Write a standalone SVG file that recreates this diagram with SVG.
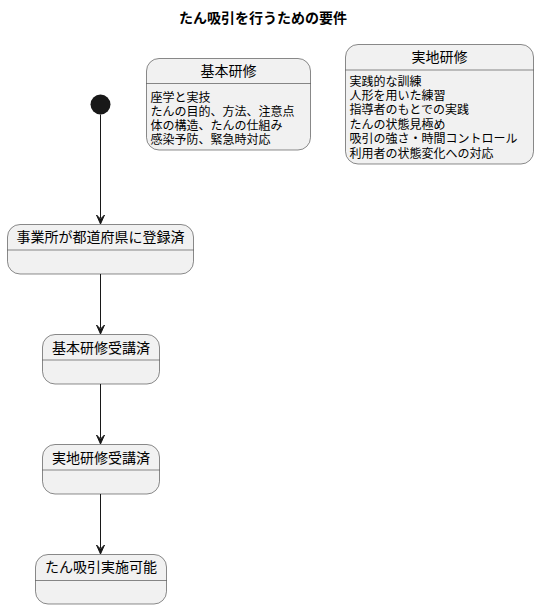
<svg xmlns="http://www.w3.org/2000/svg" width="539" height="609" viewBox="0 0 539 609">
<style>
text{font-family:"Liberation Sans","Noto Sans CJK JP",sans-serif;fill:#000}
.st{fill:#F1F1F1;stroke:#181818;stroke-width:0.5}
.dv{stroke:#181818;stroke-width:0.5}
.t{font-size:14px;text-anchor:middle}
.b{font-size:12px}
.ttl{font-size:14px;font-weight:bold;text-anchor:middle}
.ln{stroke:#181818;stroke-width:1;fill:none}
.ah{fill:#181818;stroke:#181818;stroke-width:1}
</style>
<rect width="539" height="609" fill="#FFFFFF"/>
<text class="ttl" x="263" y="23">たん吸引を行うための要件</text>
<g id="kihon">
<rect class="st" x="146.5" y="58.5" width="164" height="91.5" rx="12.5"/>
<line class="dv" x1="146.5" y1="83.5" x2="310.5" y2="83.5"/>
<text class="t" x="228.5" y="75.5">基本研修</text>
<text class="b" x="150.5" y="101.5">座学と実技</text>
<text class="b" x="150.5" y="115.7">たんの目的、方法、注意点</text>
<text class="b" x="150.5" y="129.9">体の構造、たんの仕組み</text>
<text class="b" x="150.5" y="144.1">感染予防、緊急時対応</text>
</g>
<g id="jitchi">
<rect class="st" x="345.5" y="44.5" width="188" height="119.5" rx="12.5"/>
<line class="dv" x1="345.5" y1="70" x2="533.5" y2="70"/>
<text class="t" x="439.5" y="61.5">実地研修</text>
<text class="b" x="349.5" y="85.5">実践的な訓練</text>
<text class="b" x="349.5" y="99.9">人形を用いた練習</text>
<text class="b" x="349.5" y="114.3">指導者のもとでの実践</text>
<text class="b" x="349.5" y="128.7">たんの状態見極め</text>
<text class="b" x="349.5" y="143.1">吸引の強さ・時間コントロール</text>
<text class="b" x="349.5" y="157.5">利用者の状態変化への対応</text>
</g>
<g id="start">
<circle cx="100.5" cy="104.5" r="10" fill="#181818"/>
</g>
<g id="s1">
<rect class="st" x="7.5" y="224.5" width="186" height="49.5" rx="12.5"/>
<line class="dv" x1="7.5" y1="250" x2="193.5" y2="250"/>
<text class="t" x="100.5" y="241.5">事業所が都道府県に登録済</text>
</g>
<g id="s2">
<rect class="st" x="42.5" y="334.5" width="117" height="49.5" rx="12.5"/>
<line class="dv" x1="42.5" y1="360" x2="159.5" y2="360"/>
<text class="t" x="101" y="353">基本研修受講済</text>
</g>
<g id="s3">
<rect class="st" x="42.5" y="444.5" width="117" height="49.5" rx="12.5"/>
<line class="dv" x1="42.5" y1="470" x2="159.5" y2="470"/>
<text class="t" x="101" y="463">実地研修受講済</text>
</g>
<g id="s4">
<rect class="st" x="35.5" y="554.5" width="131" height="49.5" rx="12.5"/>
<line class="dv" x1="35.5" y1="580.5" x2="166.5" y2="580.5"/>
<text class="t" x="101" y="571.5">たん吸引実施可能</text>
</g>
<g id="connectors">
<line class="ln" x1="100.5" y1="114.5" x2="100.5" y2="218"/>
<polygon class="ah" points="96.5,215 100.5,224 104.5,215 100.5,219"/>
<line class="ln" x1="100.5" y1="274" x2="100.5" y2="328"/>
<polygon class="ah" points="96.5,325 100.5,334 104.5,325 100.5,329"/>
<line class="ln" x1="100.5" y1="384" x2="100.5" y2="438"/>
<polygon class="ah" points="96.5,435 100.5,444 104.5,435 100.5,439"/>
<line class="ln" x1="100.5" y1="494" x2="100.5" y2="548"/>
<polygon class="ah" points="96.5,545 100.5,554 104.5,545 100.5,549"/>
</g>
</svg>
